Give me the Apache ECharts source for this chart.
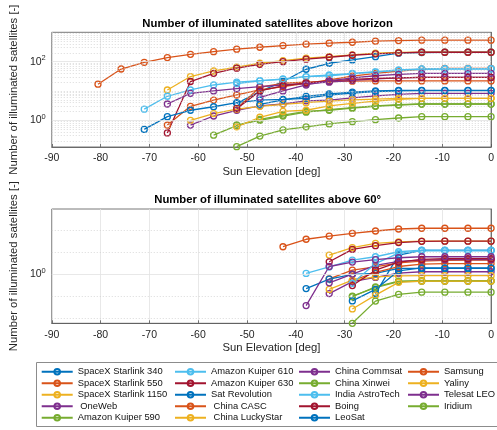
<!DOCTYPE html>
<html>
<head>
<meta charset="utf-8">
<script src="https://cdn.jsdelivr.net/npm/echarts@6/dist/echarts.min.js"></script>
<style>
  html, body { margin: 0; padding: 0; background: #fff; }
  #chart { width: 497px; height: 430px; }
</style>
</head>
<body>
<div id="chart"></div>
<script>
// sun elevation samples (deg)
const sunElev = [-90, -85.26, -80.53, -75.79, -71.05, -66.32, -61.58, -56.84, -52.11, -47.37,
  -42.63, -37.89, -33.16, -28.42, -23.68, -18.95, -14.21, -9.47, -4.74, 0];

const names = ['SpaceX Starlink 340', 'SpaceX Starlink 550', 'SpaceX Starlink 1150', ' OneWeb',
  'Amazon Kuiper 590', 'Amazon Kuiper 610', 'Amazon Kuiper 630', 'Sat Revolution', ' China CASC',
  ' China LuckyStar', 'China Commsat', 'China Xinwei', 'India AstroTech', 'Boing', 'LeoSat',
  'Samsung', 'Yaliny', 'Telesat LEO', 'Iridium'];

const colors = ['#0072BD', '#D95319', '#EDB120', '#7E2F8E', '#77AC30', '#4DBEEE', '#A2142F'];

// above horizon
const hzStarlink340 = [null, null, null, null, null, null, null, null, 3.8, 9.5, 21, 55, 88, 114, 148, 194, 205, 209, 209, 209];
const hzStarlink550 = [null, null, null, null, null, 0.69, 3.0, 4.9, 7.3, 10.8, 14, 18, 24, 32, 40, 48, 55, 59, 59, 59];
const hzStarlink1150 = [null, null, null, null, null, 10.8, 31, 48, 64.5, 88, 108, 131, 148, 169, 194, 205, 209, 209, 209, 209];
const hzOneWeb = [null, null, null, null, null, null, 0.69, 1.4, 2.2, 3.1, 3.6, 4.6, 4.9, 5.8, 6.8, 7.6, 8.3, 8.3, 8.3, 8.3];
const hzKuiper590 = [null, null, null, null, null, null, null, 0.31, 0.66, 1.08, 1.5, 2.0, 2.2, 2.6, 3.0, 3.3, 3.6, 3.6, 3.6, 3.6];
const hzKuiper610 = [null, null, null, null, 2.4, 6.6, 10.8, 16, 20, 22.5, 25, 31, 33, 38, 44, 50, 55, 56, 56, 56];
const hzKuiper630 = [null, null, null, null, null, 0.37, 21, 40, 60, 81, 100, 121, 141, 165, 185, 200, 209, 209, 209, 209];
const hzSatRevolution = [null, null, null, null, 0.49, 1.33, 2.2, 2.9, 4.0, 4.9, 5.2, 5.6, 7.3, 8.5, 9.5, 10, 10.3, 10.3, 10.3, 10.3];
const hzChinaCASC = [null, null, null, null, null, null, null, null, 2.5, 13.4, 18.3, 20, 21, 21.5, 22, 22, 22, 22, 22, 22];
const hzLuckyStar = [null, null, null, null, null, null, 1.0, 1.7, 2.4, 3.0, 3.5, 4.0, 4.5, 5.0, 5.3, 5.6, 5.6, 5.6, 5.6, 5.6];
const hzCommsat = [null, null, null, null, null, 3.6, 8.3, 10, 12, 14, 16, 18, 20, 23, 26, 28, 29, 29, 29, 29];
const hzXinwei = [null, null, null, null, null, null, null, null, 0.7, 1.0, 1.4, 1.9, 2.3, 2.7, 3.1, 3.4, 3.6, 3.6, 3.6, 3.6];
const hzAstroTech = [null, null, null, null, null, null, null, null, 18, 22, 26, 31, 35, 40, 46, 52, 57, 58, 58, 58];
const hzBoing = [null, null, null, null, null, null, null, null, 2.5, 10, 15, 19, 22, 25, 27, 28, 29, 29, 29, 29];
const hzLeoSat = [null, null, null, null, null, null, null, null, null, 3.5, 5.0, 6.5, 8.0, 9.2, 10, 10.5, 10.5, 10.5, 10.5, 10.5];
const hzSamsung = [null, null, 17, 56, 95, 137, 178, 219, 265, 309, 352, 393, 425, 458, 500, 522, 537, 540, 540, 540];
const hzYaliny = [null, null, null, null, null, null, null, null, 0.6, 1.27, 2.0, 2.2, 3.1, 3.8, 4.5, 5.2, 5.6, 5.6, 5.6, 5.6];
const hzTelesat = [null, null, null, null, null, null, null, null, null, 6, 10, 16, 22, 28, 33, 37, 40, 40, 40, 40];
const hzIridium = [null, null, null, null, null, null, null, null, 0.126, 0.29, 0.47, 0.6, 0.75, 0.9, 1.05, 1.2, 1.33, 1.33, 1.33, 1.33];

// above 60 deg
const h60Starlink340 = [null, null, null, null, null, null, null, null, null, null, null, null, null, null, 0.13, 7.3, 12, 12, 12, 12];
const h60Starlink550 = [null, null, null, null, null, null, null, null, null, null, null, null, 0.6, 1.5, 2.1, 3.2, 3.9, 4.2, 4.3, 4.3];
const h60Starlink1150 = [null, null, null, null, null, null, null, null, null, null, null, null, 7.3, 15.7, 24.7, 29, 31.6, 31.6, 31.6, 31.6];
const h60OneWeb = [null, null, null, null, null, null, null, null, null, null, null, null, 0.13, 0.45, 0.7, 1.1, 1.27, 1.27, 1.27, 1.27];
const h60Kuiper590 = [null, null, null, null, null, null, null, null, null, null, null, null, null, 0.093, 0.26, 0.48, 0.5, 0.5, 0.5, 0.5];
const h60Kuiper610 = [null, null, null, null, null, null, null, null, null, null, null, 1.07, 2.1, 4.3, 6.1, 10.3, 12.3, 12.3, 12.3, 12.3];
const h60Kuiper630 = [null, null, null, null, null, null, null, null, null, null, null, null, 3.6, 13.3, 19.4, 27, 30.5, 31, 31, 31];
const h60SatRevolution = [null, null, null, null, null, null, null, null, null, null, null, 0.22, 0.59, 0.97, 1.07, 1.8, 1.8, 1.8, 1.8, 1.8];
const h60ChinaCASC = [null, null, null, null, null, null, null, null, null, null, null, null, null, 0.5, 1.2, 2.2, 2.8, 3.0, 3.0, 3.0];
const h60LuckyStar = [null, null, null, null, null, null, null, null, null, null, null, null, 0.2, 0.53, 0.75, 0.82, 0.84, 0.84, 0.84, 0.84];
const h60Commsat = [null, null, null, null, null, null, null, null, null, null, null, null, 0.4, 1.0, 2.5, 3.8, 4.3, 4.5, 4.5, 4.5];
const h60Xinwei = [null, null, null, null, null, null, null, null, null, null, null, null, null, 0.1, 0.24, 0.45, 0.47, 0.47, 0.47, 0.47];
const h60AstroTech = [null, null, null, null, null, null, null, null, null, null, null, null, null, 0.38, 3.0, 9.0, 11.4, 11.4, 11.4, 11.4];
const h60Boing = [null, null, null, null, null, null, null, null, null, null, null, null, null, 0.3, 1.5, 3.5, 4.6, 5.0, 5.0, 5.0];
const h60LeoSat = [null, null, null, null, null, null, null, null, null, null, null, null, null, 0.06, 0.2, 1.4, 1.9, 1.9, 1.9, 1.9];
const h60Samsung = [null, null, null, null, null, null, null, null, null, null, 17.4, 38, 53, 71, 90, 111, 120, 120, 120, 120];
const h60Yaliny = [null, null, null, null, null, null, null, null, null, null, null, null, null, 0.026, 0.11, 0.42, 0.48, 0.48, 0.48, 0.48];
const h60Telesat = [null, null, null, null, null, null, null, null, null, null, null, 0.037, 2.2, 3.5, 4.5, 5.5, 6.1, 6.1, 6.1, 6.1];
const h60Iridium = [null, null, null, null, null, null, null, null, null, null, null, null, null, 0.0058, 0.059, 0.12, 0.15, 0.15, 0.15, 0.15];

const horizonData = [hzStarlink340, hzStarlink550, hzStarlink1150, hzOneWeb, hzKuiper590, hzKuiper610,
  hzKuiper630, hzSatRevolution, hzChinaCASC, hzLuckyStar, hzCommsat, hzXinwei, hzAstroTech, hzBoing,
  hzLeoSat, hzSamsung, hzYaliny, hzTelesat, hzIridium];
const above60Data = [h60Starlink340, h60Starlink550, h60Starlink1150, h60OneWeb, h60Kuiper590, h60Kuiper610,
  h60Kuiper630, h60SatRevolution, h60ChinaCASC, h60LuckyStar, h60Commsat, h60Xinwei, h60AstroTech, h60Boing,
  h60LeoSat, h60Samsung, h60Yaliny, h60Telesat, h60Iridium];

// y tick labels shown
const topLabelDecades = [0, 2];
const bottomLabelDecades = [0];

const FONT = "'Liberation Sans', Arial, Helvetica, sans-serif";
const chart = echarts.init(document.getElementById('chart'), null, { renderer: 'canvas' });

function pairs(arr) {
  const out = [];
  arr.forEach((v, i) => { if (v != null) out.push([sunElev[i], v]); });
  return out;
}

// grid lines drawn through the y scale (major solid, minor dotted)
function gridLines(lo, hi, solidDecades, minorAll) {
  const items = [];
  for (let e = Math.floor(Math.log10(lo)); e <= Math.ceil(Math.log10(hi)); e++) {
    const mults = minorAll ? [1, 2, 3, 4, 5, 6, 7, 8, 9] : [1];
    mults.forEach(m => {
      const v = m * Math.pow(10, e);
      if (v <= lo * 1.01 || v >= hi * 0.99) return;
      const solid = m === 1 && solidDecades.indexOf(e) >= 0;
      items.push({
        yAxis: v,
        lineStyle: solid
          ? { type: 'solid', color: '#e2e2e2', width: 0.8 }
          : { type: [1, 2], color: '#c8c8c8', width: 0.7 }
      });
    });
  }
  return items;
}

function decadeLabel(decades) {
  return function (v) {
    const e = Math.log10(v);
    const r = Math.round(e);
    if (Math.abs(e - r) < 0.01 && decades.indexOf(r) >= 0) {
      return '{b|10}{s|' + r + '}';
    }
    return '';
  };
}

const labelRich = {
  b: { fontSize: 10.5, color: '#262626', fontFamily: FONT },
  s: { fontSize: 7.5, color: '#262626', fontFamily: FONT, padding: [0, 0, 7, 0] }
};

function xAxisCfg(idx) {
  return {
    type: 'value', gridIndex: idx, min: -90, max: 0, interval: 10,
    name: 'Sun Elevation [deg]', nameLocation: 'middle', nameGap: 19,
    nameTextStyle: { fontSize: 11.3, color: '#262626', fontFamily: FONT },
    axisLine: { show: true, onZero: false, lineStyle: { color: '#555', width: 0.8 } },
    axisTick: { show: true, inside: true, length: 3, lineStyle: { color: '#555', width: 0.8 } },
    axisLabel: { margin: 6, fontSize: 10.5, color: '#262626', fontFamily: FONT },
    splitLine: { show: true, lineStyle: { color: '#e2e2e2', width: 0.8 } }
  };
}

function yAxisCfg(idx, min, max, decades) {
  return {
    type: 'log', logBase: 10, gridIndex: idx, min: min, max: max,
    name: 'Number of illuminated satellites [-]', nameLocation: 'middle', nameGap: 24, nameRotate: 90,
    nameTextStyle: { fontSize: 11.3, color: '#262626', fontFamily: FONT },
    axisLine: { show: true, lineStyle: { color: '#555', width: 0.8 } },
    axisTick: { show: false },
    axisLabel: { margin: 6, formatter: decadeLabel(decades), rich: labelRich },
    splitLine: { show: false }
  };
}

const series = [];
[[horizonData, 0], [above60Data, 1]].forEach(([sets, g]) => {
  sets.forEach((arr, i) => {
    const c = colors[i % colors.length];
    series.push({
      name: names[i], type: 'line', xAxisIndex: g, yAxisIndex: g,
      data: pairs(arr), symbol: 'circle', symbolSize: 6, z: 3,
      lineStyle: { color: c, width: 1.3 },
      itemStyle: { color: 'rgba(255,255,255,0)', borderColor: c, borderWidth: 1.3 }
    });
  });
});

series.push({
  type: 'line', xAxisIndex: 0, yAxisIndex: 0, data: [], silent: true, z: 1,
  markLine: { silent: true, animation: false, symbol: ['none', 'none'], label: { show: false },
    data: gridLines(0.123, 1000, topLabelDecades, true) }
});
series.push({
  type: 'line', xAxisIndex: 1, yAxisIndex: 1, data: [], silent: true, z: 1,
  markLine: { silent: true, animation: false, symbol: ['none', 'none'], label: { show: false },
    data: gridLines(0.0058, 900, bottomLabelDecades, false) }
});

function legendCol(left, from, to) {
  return {
    data: names.slice(from, to), orient: 'vertical', left: left, top: 366, height: 70,
    padding: 0, itemWidth: 31, itemHeight: 7, itemGap: 0, selectedMode: false,
    textStyle: { fontSize: 9.4, lineHeight: 11.5, color: '#111', fontFamily: FONT }
  };
}

const option = {
  animation: false,
  backgroundColor: '#fff',
  grid: [
    { left: 43.5, right: 5.3, top: 32.3, height: 114.7, show: true, borderColor: '#555', borderWidth: 0.8 },
    { left: 43.5, right: 5.3, top: 209, height: 114.3, show: true, borderColor: '#555', borderWidth: 0.8 }
  ],
  xAxis: [xAxisCfg(0), xAxisCfg(1)],
  yAxis: [yAxisCfg(0, 0.123, 1000, topLabelDecades), yAxisCfg(1, 0.0058, 900, bottomLabelDecades)],
  legend: [legendCol(40.7, 0, 5), legendCol(174, 5, 10), legendCol(298, 10, 15), legendCol(407, 15, 19)],
  graphic: [
    { type: 'text', x: 267.6, y: 24, style: { text: 'Number of illuminated satellites above horizon',
      textAlign: 'center', textVerticalAlign: 'middle', align: 'center', verticalAlign: 'middle',
      font: 'bold 11.3px ' + FONT, fill: '#000' } },
    { type: 'text', x: 267.6, y: 200, style: { text: 'Number of illuminated satellites above 60°',
      textAlign: 'center', textVerticalAlign: 'middle', align: 'center', verticalAlign: 'middle',
      font: 'bold 11.3px ' + FONT, fill: '#000' } },
    { type: 'rect', shape: { x: 36.5, y: 362.5, width: 470, height: 64 },
      style: { fill: 'none', stroke: '#8c8c8c', lineWidth: 1 } }
  ],
  series: series
};

chart.setOption(option);
</script>
</body>
</html>
